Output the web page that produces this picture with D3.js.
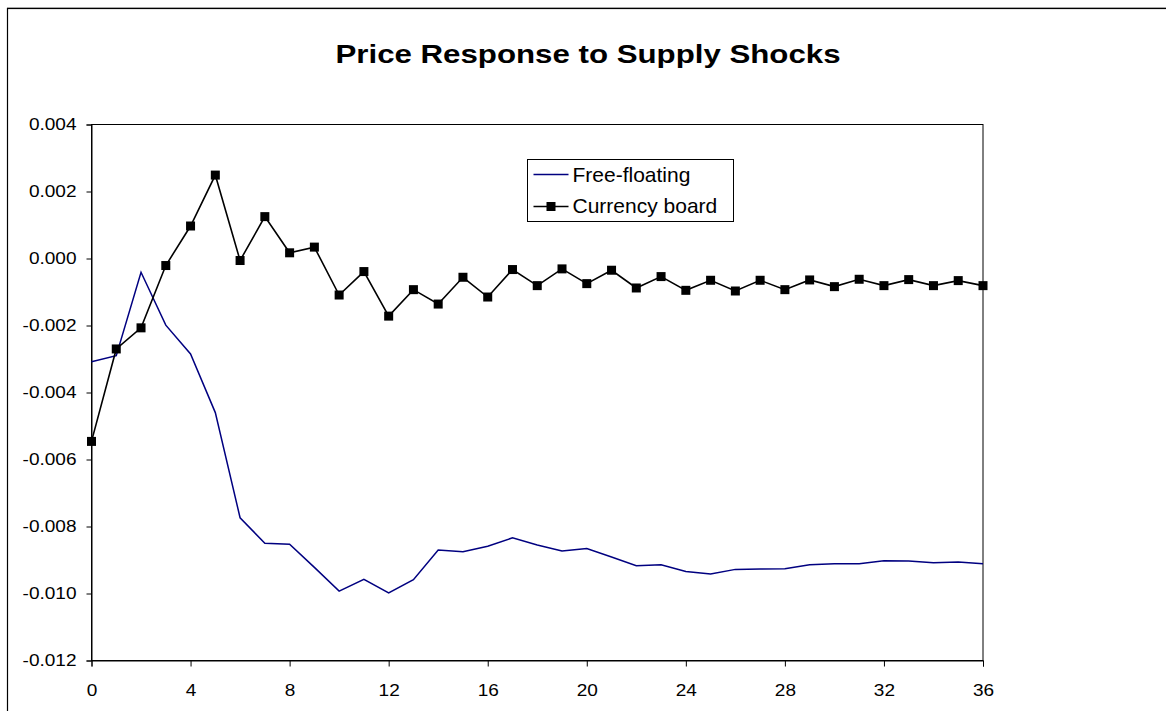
<!DOCTYPE html>
<html>
<head>
<meta charset="utf-8">
<script src="https://cdn.jsdelivr.net/npm/d3@7"></script>
<style>
  body { margin: 0; background: #fff; }
  svg { display: block; font-family: "Liberation Sans", Arial, sans-serif; }
</style>
</head>
<body>
<div id="chart"></div>
<script>
const width = 1166;
const height = 711;

const months = d3.range(0, 37);

const freeFloating = [
  -0.00308, -0.00290, -0.00041, -0.00199, -0.00285, -0.00460, -0.00774, -0.00850,
  -0.00853, -0.00922, -0.00993, -0.00958, -0.00998, -0.00959, -0.00870, -0.00875,
  -0.00859, -0.00834, -0.00855, -0.00873, -0.00866, -0.00891, -0.00917, -0.00914,
  -0.00934, -0.00942, -0.00928, -0.00927, -0.00926, -0.00914, -0.00911, -0.00911,
  -0.00902, -0.00903, -0.00908, -0.00906, -0.00911
];

const currencyBoard = [
  -0.00546, -0.00270, -0.00207, -0.00021, 0.00097, 0.00249, -0.00006, 0.00125,
  0.00017, 0.00034, -0.00109, -0.00039, -0.00172, -0.00093, -0.00136, -0.00056,
  -0.00115, -0.00033, -0.00081, -0.00031, -0.00075, -0.00035, -0.00088, -0.00054,
  -0.00095, -0.00065, -0.00097, -0.00065, -0.00093, -0.00064, -0.00084, -0.00062,
  -0.00081, -0.00063, -0.00081, -0.00066, -0.00081
];

const xTicks = [0, 4, 8, 12, 16, 20, 24, 28, 32, 36];
const yTicks = [0.004, 0.002, 0, -0.002, -0.004, -0.006, -0.008, -0.010, -0.012];

const title = 'Price Response to Supply Shocks';
const seriesNames = ['Free-floating', 'Currency board'];

const plot = {left: 91.5, top: 124.5, right: 983, bottom: 660.5};
const stretch = 1.12; // the picture is a bit wider than tall

const svg = d3.select('#chart').append('svg')
  .attr('width', width)
  .attr('height', height);

// outer chart border (only left/top visible in frame)
svg.append('line')
  .attr('x1', 7).attr('x2', width).attr('y1', 7.5).attr('y2', 7.5)
  .attr('stroke', '#bbb').attr('stroke-width', 1);
svg.append('rect')
  .attr('x', 7.5).attr('y', 8.5)
  .attr('width', width + 20).attr('height', height + 20)
  .attr('fill', 'none').attr('stroke', '#000').attr('stroke-width', 1.2);

svg.append('text')
  .attr('transform', 'translate(588,63) scale(1.25,1)')
  .attr('text-anchor', 'middle')
  .style('font-size', '25px')
  .style('font-weight', 'bold')
  .text(title);

const x = d3.scaleLinear().domain([0, 36]).range([plot.left, plot.right]);
const y = d3.scaleLinear().domain([-0.012, 0.004]).range([plot.bottom, plot.top]);

// plot frame
svg.append('rect')
  .attr('x', plot.left).attr('y', plot.top)
  .attr('width', plot.right - plot.left).attr('height', plot.bottom - plot.top)
  .attr('fill', 'none').attr('stroke', '#000').attr('stroke-width', 1);

const yAxis = svg.append('g')
  .attr('transform', `translate(${plot.left},0)`)
  .call(d3.axisLeft(y).tickValues(yTicks).tickSize(5).tickPadding(10)
    .tickFormat(d => d3.format('.3f')(d).replace('−', '-')));

const xAxis = svg.append('g')
  .attr('transform', `translate(0,${plot.bottom})`)
  .call(d3.axisBottom(x).tickValues(xTicks).tickSize(6).tickPadding(17)
    .tickFormat(d3.format('d')));

[xAxis, yAxis].forEach(a => {
  a.select('.domain').attr('stroke', '#000');
  a.selectAll('.tick line').attr('stroke', '#000');
  a.selectAll('.tick text')
    .style('font-family', '"Liberation Sans", Arial, sans-serif')
    .style('font-size', '17px')
    .attr('fill', '#000')
    .attr('transform', `scale(${stretch},1)`);
});

yAxis.selectAll('.tick text')
  .attr('x', -15 / stretch);

const line = vals => d3.line()
  .x((d, i) => x(months[i]))
  .y(d => y(d))(vals);

svg.append('path')
  .attr('d', line(freeFloating))
  .attr('fill', 'none')
  .attr('stroke', '#000080')
  .attr('stroke-width', 1.5);

svg.append('path')
  .attr('d', line(currencyBoard))
  .attr('fill', 'none')
  .attr('stroke', '#000')
  .attr('stroke-width', 1.6);

const sq = 9;
svg.selectAll('.cb-dot')
  .data(currencyBoard)
  .enter()
  .append('rect')
  .attr('class', 'cb-dot')
  .attr('x', (d, i) => x(months[i]) - sq / 2)
  .attr('y', d => y(d) - sq / 2)
  .attr('width', sq).attr('height', sq)
  .attr('fill', '#000');

// legend
const legend = svg.append('g').attr('transform', 'translate(527.5,159.5)');
legend.append('rect')
  .attr('width', 206).attr('height', 62)
  .attr('fill', '#fff').attr('stroke', '#000').attr('stroke-width', 1);

legend.append('line')
  .attr('x1', 6).attr('x2', 41).attr('y1', 15).attr('y2', 15)
  .attr('stroke', '#000080').attr('stroke-width', 1.5);
legend.append('line')
  .attr('x1', 6).attr('x2', 41).attr('y1', 47).attr('y2', 47)
  .attr('stroke', '#000').attr('stroke-width', 1.6);
legend.append('rect')
  .attr('x', 23.5 - sq / 2).attr('y', 47 - sq / 2)
  .attr('width', sq).attr('height', sq).attr('fill', '#000');

legend.selectAll('.legend-label')
  .data(seriesNames)
  .enter()
  .append('text')
  .attr('class', 'legend-label')
  .attr('x', 45)
  .attr('y', (d, i) => 22.5 + i * 31)
  .style('font-size', '21px')
  .text(d => d);
</script>
</body>
</html>
